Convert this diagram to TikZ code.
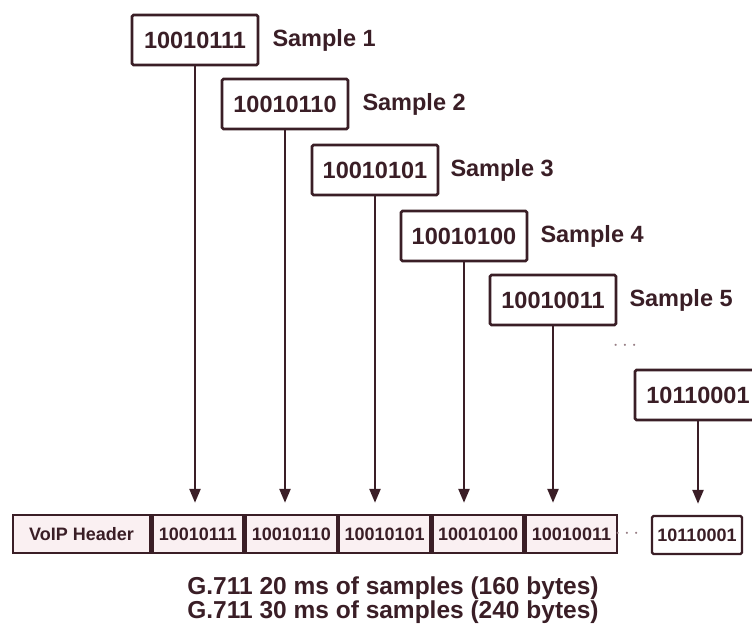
\documentclass[tikz,border=0pt]{standalone}
\usepackage{fontspec}
\setmainfont{Liberation Sans}
\usetikzlibrary{arrows.meta}
\definecolor{ink}{RGB}{58,30,38}
\definecolor{dotgray}{RGB}{150,125,132}
\definecolor{cellfill}{RGB}{250,240,242}
\begin{document}
\begin{tikzpicture}[x=1pt,y=-1pt,
  every node/.style={text=ink,font=\bfseries},
  samplebox/.style={draw=ink,line width=2.6pt,rounded corners=1.5pt,fill=white,
    minimum width=126pt,minimum height=50pt,inner sep=0pt,font=\bfseries\fontsize{23.5}{26}\selectfont},
  samplelabel/.style={anchor=west,inner sep=0pt,font=\bfseries\fontsize{23.5}{26}\selectfont},
  cell/.style={draw=ink,line width=2.4pt,fill=cellfill,minimum height=38pt,inner sep=0pt,
    font=\bfseries\fontsize{18}{20}\selectfont},
  feed/.style={draw=ink,line width=2.4pt,-{Triangle[length=14pt,width=11pt]},shorten >=11pt},
  gap/.style={text=dotgray,font=\bfseries\fontsize{20}{20}\selectfont,inner sep=0pt},
  caption/.style={font=\bfseries\fontsize{24.5}{24}\selectfont,align=center,inner sep=0pt}]
\useasboundingbox (0,0) rectangle (752,631);
\clip (0,0) rectangle (752,631);

% individual samples
\node[samplebox] (s1) at (195,40)  {10010111};
\node[samplebox] (s2) at (285,104) {10010110};
\node[samplebox] (s3) at (375,170) {10010101};
\node[samplebox] (s4) at (464,236) {10010100};
\node[samplebox] (s5) at (553,300) {10010011};
\node[samplebox] (sn) at (698,395) {10110001};

\node[samplelabel] (l1) at ([xshift=13pt]s1.east) {Sample 1};
\node[samplelabel] (l2) at ([xshift=13pt]s2.east) {Sample 2};
\node[samplelabel] (l3) at ([xshift=11pt]s3.east) {Sample 3};
\node[samplelabel] (l4) at ([xshift=12pt]s4.east) {Sample 4};
\node[samplelabel] (l5) at ([xshift=12pt]s5.east) {Sample 5};

\node[gap] (d1) at (625,346) {$\cdots$};

% packet: header followed by sample bytes
\node[cell,minimum width=137pt] (hd) at (81.5,534) {VoIP Header};
\node[cell,minimum width=91pt,anchor=west] (c1) at (hd.east) {10010111};
\node[cell,minimum width=91pt,anchor=west] (c2) at (c1.east) {10010110};
\node[cell,minimum width=91pt,anchor=west] (c3) at (c2.east) {10010101};
\node[cell,minimum width=91pt,anchor=west] (c4) at (c3.east) {10010100};
\node[cell,minimum width=91pt,anchor=west] (c5) at (c4.east) {10010011};
\node[gap] (d2) at (627,534) {$\cdots$};
\node[cell,minimum width=90pt,fill=white,rounded corners=1.5pt] (cn) at (697,535) {10110001};

% samples dropping into the packet
\foreach \s/\c in {s1/c1,s2/c2,s3/c3,s4/c4,s5/c5,sn/cn}
  \draw[feed] (\s.south) -- (\s.south |- \c.north);

\node[caption] (cap) at (393,600) {G.711 20 ms of samples (160 bytes)\\G.711 30 ms of samples (240 bytes)};
\end{tikzpicture}
\end{document}
